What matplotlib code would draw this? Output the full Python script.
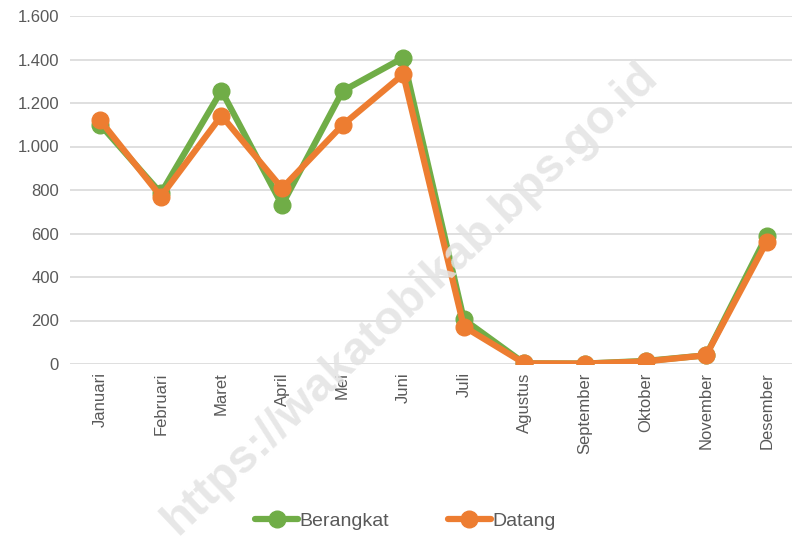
import matplotlib.pyplot as plt
import numpy as np

bulan = ['Januari', 'Februari', 'Maret', 'April', 'Mei', 'Juni', 'Juli',
         'Agustus', 'September', 'Oktober', 'November', 'Desember']
berangkat = [1100, 785, 1257, 731, 1255, 1408, 205, 3, 2, 14, 40, 590]
datang = [1120, 770, 1142, 808, 1099, 1332, 172, 3, 2, 12, 40, 562]
yticks = [0, 200, 400, 600, 800, 1000, 1200, 1400, 1600]
ytick_labels = ['0', '200', '400', '600', '800', '1.000', '1.200', '1.400', '1.600']


def main():
    plt.rcParams['font.family'] = ['Liberation Sans', 'DejaVu Sans']
    fig = plt.figure(figsize=(7.92, 5.36), dpi=100)
    ax = fig.add_axes([70 / 792, 1 - 364 / 536, 727 / 792, 348 / 536])

    x = np.arange(len(bulan))
    ax.plot(x, berangkat, color='#70AD47', lw=4.5, marker='o', ms=12,
            label='Berangkat', zorder=3, solid_capstyle='round')
    ax.plot(x, datang, color='#ED7D31', lw=4.5, marker='o', ms=12,
            label='Datang', zorder=4, solid_capstyle='round')

    ax.set_xlim(-0.5, len(bulan) - 0.5)
    ax.set_ylim(0, 1600)
    ax.set_yticks(yticks)
    ax.set_yticklabels(ytick_labels)
    ax.set_xticks(x)
    ax.set_xticklabels(bulan, rotation=90)
    ax.grid(axis='y', color='#d9d9d9', lw=1.2)
    ax.set_axisbelow(True)
    for s in ax.spines.values():
        s.set_visible(False)
    ax.tick_params(length=0, labelsize=12, colors='#595959', pad=8)
    ax.tick_params(axis='x', pad=6)

    # watermark (cut off at the bottom edge, as in the original)
    fig.text(0.518, 0.444, 'https://wakatobikab.bps.go.id', rotation=43.5,
             fontsize=34, fontweight='bold', color='#e3e3e3', alpha=0.85,
             ha='center', va='center', zorder=1)

    fig.legend(loc='center', bbox_to_anchor=(0.512, 1 - 521 / 536), ncol=2,
               frameon=False, fontsize=14, handlelength=2.2, columnspacing=3,
               handletextpad=0.1, labelcolor='#595959')

    fig.savefig('out.png', dpi=100)


if __name__ == '__main__':
    main()
